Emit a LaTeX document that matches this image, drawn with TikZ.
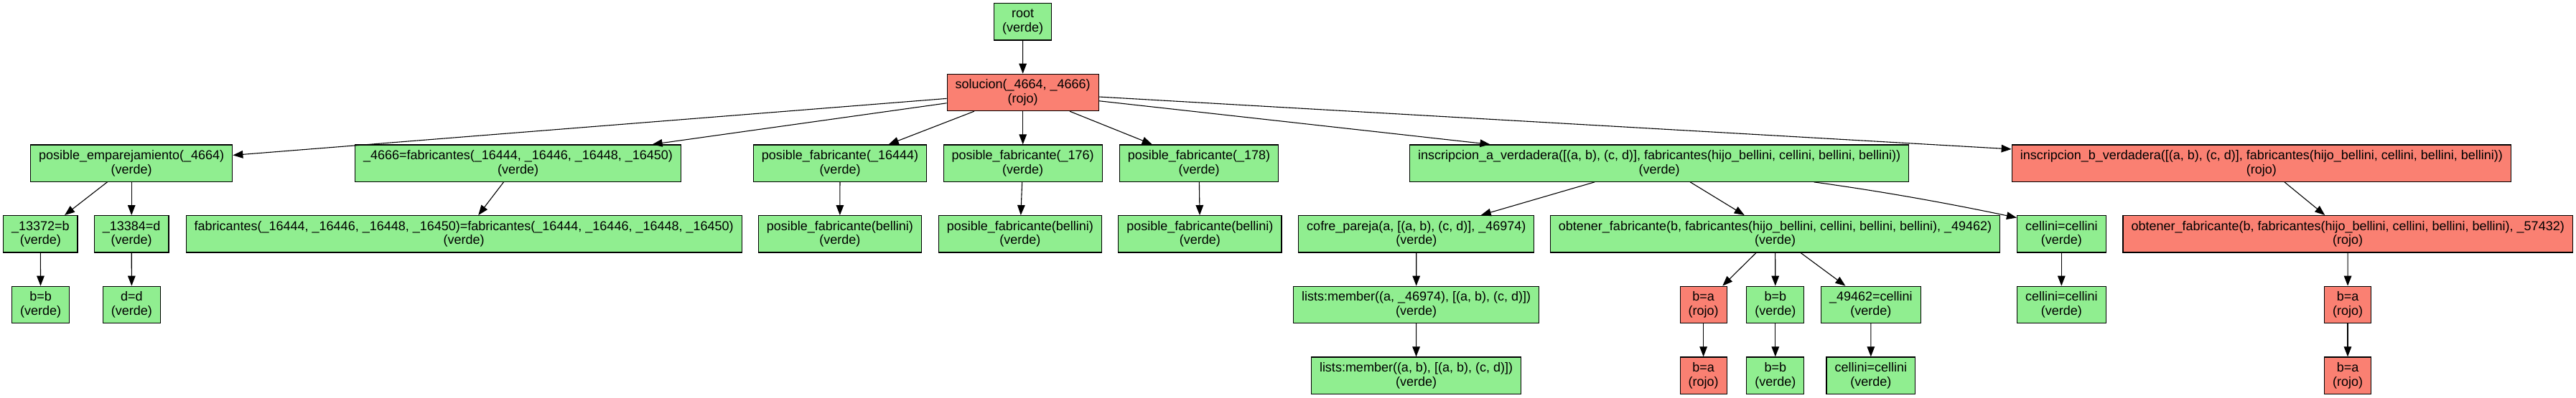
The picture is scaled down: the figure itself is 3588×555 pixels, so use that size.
\documentclass[tikz,border=0pt]{standalone}
\usepackage{fontspec}
\setmainfont{Liberation Sans}
\usetikzlibrary{arrows.meta,calc}
\definecolor{verde}{HTML}{90EE90}
\definecolor{rojo}{HTML}{FA8072}
\begin{document}
\begin{tikzpicture}[x=0.5pt,y=-0.5pt,
  box/.style={draw=black,line width=0.6pt,rectangle,minimum height=25.65pt,
    inner xsep=5.75pt,inner ysep=0pt,align=center,
    font=\fontsize{9}{9.9}\selectfont},
  ok/.style={box,fill=verde},
  ko/.style={box,fill=rojo},
  arr/.style={draw=black,line width=0.55pt,-{Triangle[length=7pt,width=5.3pt]}}]
\useasboundingbox (0,0) rectangle (3588,555);
% row 0
\node[ok] (root) at (1424.5,30.3) {root\\(verde)};
% row 1
\node[ko] (sol) at (1424.7,128.96) {solucion(\_4664, \_4666)\\(rojo)};
% row 2
\node[ok] (emp) at (183.2,227.6) {posible\_emparejamiento(\_4664)\\(verde)};
\node[ok] (f4666) at (721.6,227.6) {\_4666=fabricantes(\_16444, \_16446, \_16448, \_16450)\\(verde)};
\node[ok] (pfa) at (1170,227.6) {posible\_fabricante(\_16444)\\(verde)};
\node[ok] (pfb) at (1424.7,227.6) {posible\_fabricante(\_176)\\(verde)};
\node[ok] (pfc) at (1670,227.6) {posible\_fabricante(\_178)\\(verde)};
\node[ok] (insa) at (2311.2,227.6) {inscripcion\_a\_verdadera([(a, b), (c, d)], fabricantes(hijo\_bellini, cellini, bellini, bellini))\\(verde)};
\node[ko] (insb) at (3149.9,227.6) {inscripcion\_b\_verdadera([(a, b), (c, d)], fabricantes(hijo\_bellini, cellini, bellini, bellini))\\(rojo)};
% row 3
\node[ok] (n13372) at (56.3,326.3) {\_13372=b\\(verde)};
\node[ok] (n13384) at (183.2,326.3) {\_13384=d\\(verde)};
\node[ok] (fabeq) at (646.2,326.3) {fabricantes(\_16444, \_16446, \_16448, \_16450)=fabricantes(\_16444, \_16446, \_16448, \_16450)\\(verde)};
\node[ok] (pb1) at (1169.8,326.3) {posible\_fabricante(bellini)\\(verde)};
\node[ok] (pb2) at (1420.8,326.3) {posible\_fabricante(bellini)\\(verde)};
\node[ok] (pb3) at (1671.4,326.3) {posible\_fabricante(bellini)\\(verde)};
\node[ok] (cofre) at (1972.8,326.3) {cofre\_pareja(a, [(a, b), (c, d)], \_46974)\\(verde)};
\node[ok] (obta) at (2472.6,326.3) {obtener\_fabricante(b, fabricantes(hijo\_bellini, cellini, bellini, bellini), \_49462)\\(verde)};
\node[ok] (cel3) at (2871.3,326.3) {cellini=cellini\\(verde)};
\node[ko] (obtb) at (3270.2,326.3) {obtener\_fabricante(b, fabricantes(hijo\_bellini, cellini, bellini, bellini), \_57432)\\(rojo)};
% row 4
\node[ok] (bb1) at (56.6,424.9) {b=b\\(verde)};
\node[ok] (dd) at (183.4,424.9) {d=d\\(verde)};
\node[ok] (lm1) at (1972.6,424.9) {lists:member((a, \_46974), [(a, b), (c, d)])\\(verde)};
\node[ko] (ba1) at (2372.6,424.9) {b=a\\(rojo)};
\node[ok] (bb2) at (2472.8,424.9) {b=b\\(verde)};
\node[ok] (c49) at (2605.9,424.9) {\_49462=cellini\\(verde)};
\node[ok] (cel4) at (2871.3,424.9) {cellini=cellini\\(verde)};
\node[ko] (ba3) at (3270,424.9) {b=a\\(rojo)};
% row 5
\node[ok] (lm2) at (1972.5,523.6) {lists:member((a, b), [(a, b), (c, d)])\\(verde)};
\node[ko] (ba2) at (2372.6,523.6) {b=a\\(rojo)};
\node[ok] (bb3) at (2472.8,523.6) {b=b\\(verde)};
\node[ok] (cel5) at (2605.8,523.6) {cellini=cellini\\(verde)};
\node[ko] (ba4) at (3270,523.6) {b=a\\(rojo)};
% edges
\draw[arr] (root) -- (sol);
\draw[arr] (sol) -- (emp);
\draw[arr] (sol) -- (f4666);
\draw[arr] (sol) -- (pfa);
\draw[arr] (sol) -- (pfb);
\draw[arr] (sol) -- (pfc);
\draw[arr] (sol) -- (insa);
\draw[arr] (sol) -- (insb);
\draw[arr] (emp) -- (n13372);
\draw[arr] (emp) -- (n13384);
\draw[arr] (n13372) -- (bb1);
\draw[arr] (n13384) -- (dd);
\draw[arr] (f4666) -- (fabeq);
\draw[arr] (pfa) -- (pb1);
\draw[arr] (pfb) -- (pb2);
\draw[arr] (pfc) -- (pb3);
\draw[arr] (insa) -- (cofre);
\draw[arr] (insa) -- (obta);
\draw[arr] ($(insa.south west)!0.809!(insa.south east)$) .. controls +(95,13) and +(-95,-20) .. (cel3.160);
\draw[arr] (cofre) -- (lm1);
\draw[arr] (lm1) -- (lm2);
\draw[arr] (obta) -- (ba1);
\draw[arr] (obta) -- (bb2);
\draw[arr] (obta) -- (c49);
\draw[arr] (ba1) -- (ba2);
\draw[arr] (bb2) -- (bb3);
\draw[arr] (c49) -- (cel5);
\draw[arr] (cel3) -- (cel4);
\draw[arr] (insb) -- (obtb);
\draw[arr] (obtb) -- (ba3);
\draw[arr] (ba3) -- (ba4);
\end{tikzpicture}
\end{document}
